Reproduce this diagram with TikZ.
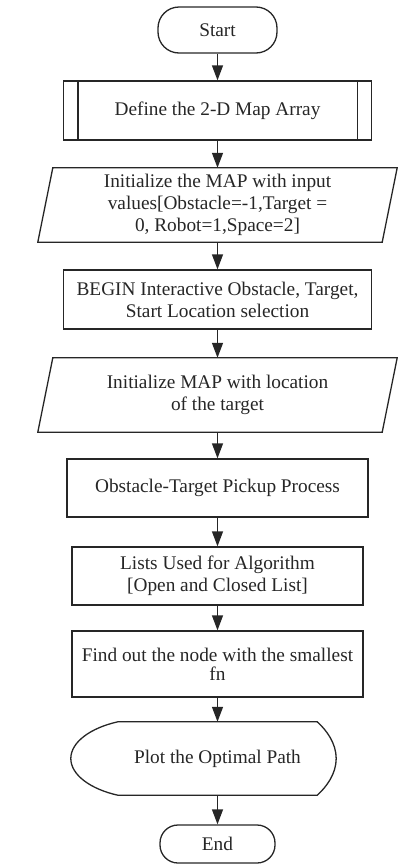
\documentclass[tikz,border=0pt]{standalone}
\usepackage{fontspec}
\setmainfont{Liberation Serif}
\usetikzlibrary{arrows.meta,calc}

\begin{document}
\begin{tikzpicture}[x=1pt, y=-1pt,
  font=\fontsize{19.3}{22}\selectfont,
  outline/.style={draw=black!85, line width=1.3pt},
  terminal/.style={outline, rounded corners=21pt, minimum width=119pt, minimum height=46pt, inner sep=0pt, text=black!85},
  procbox/.style={outline, minimum width=308pt, minimum height=59pt, inner sep=0pt, align=center, text=black!85},
  iobox/.style={minimum width=329pt, minimum height=74pt, inner sep=0pt, align=center, text=black!85},
  showbox/.style={minimum width=199pt, minimum height=73pt, inner sep=0pt, align=center, text=black!85},
  flow/.style={-{Triangle[length=15pt, width=11pt]}, line width=1.3pt, black!85},
]
\useasboundingbox (0,0) rectangle (410,865);

% ---- start ----
\node[terminal] (start) at (217.5,30) {Start};

% ---- predefined process: map array ----
\node[procbox] (define) at (217.5,110.5) {Define the 2-D Map Array};
\draw[outline] ([xshift=15pt]define.north west) -- ([xshift=15pt]define.south west);
\draw[outline] ([xshift=-15pt]define.north east) -- ([xshift=-15pt]define.south east);

% ---- input: map values ----
\node[iobox] (init) at (217.5,205) {Initialize the MAP with input\\values[Obstacle=-1,Target =\\0, Robot=1,Space=2]};
\draw[outline] ([xshift=-15pt]init.south west) -- (init.north west) -- ([xshift=15pt]init.north east) -- (init.south east) -- cycle;

% ---- interactive selection ----
\node[procbox] (begin) at (217.5,299.5) {BEGIN Interactive Obstacle, Target,\\Start Location selection};

% ---- input: target location ----
\node[iobox] (initmap) at (217.5,395) {Initialize MAP with location\\of the target};
\draw[outline] ([xshift=-15pt]initmap.south west) -- (initmap.north west) -- ([xshift=15pt]initmap.north east) -- (initmap.south east) -- cycle;

% ---- search steps ----
\node[procbox, minimum width=301pt, minimum height=58pt] (pickup) at (217.5,488) {Obstacle-Target Pickup Process};
\node[procbox, minimum width=291pt, minimum height=58pt] (lists) at (217.5,576) {Lists Used for Algorithm\\{[Open and Closed List]}};
\node[procbox, minimum width=291pt, minimum height=66pt, font=\fontsize{19.3}{19}\selectfont] (find) at (217.5,664) {Find out the node with the smallest\\fn};

% ---- display: optimal path ----
\node[showbox] (plot) at (217.5,758.5) {Plot the Optimal Path};
\draw[outline] (plot.north west) -- (plot.north east)
  .. controls ($(plot.north east)+(9,8)$) and ($(plot.east)+(19,-15.5)$) .. ($(plot.east)+(19,0)$)
  .. controls ($(plot.east)+(19,15.5)$) and ($(plot.south east)+(9,-8)$) .. (plot.south east)
  -- (plot.south west)
  .. controls ($(plot.south west)+(-27,-6)$) and ($(plot.west)+(-47,16.5)$) .. ($(plot.west)+(-47,0)$)
  .. controls ($(plot.west)+(-47,-16.5)$) and ($(plot.north west)+(-27,6)$) .. (plot.north west) -- cycle;

% ---- end ----
\node[terminal, minimum width=115pt, minimum height=38pt, rounded corners=18pt] (end) at (217.5,844) {End};

% ---- flow ----
\draw[flow] (start) -- (define);
\draw[flow] (define) -- (init);
\draw[flow] (init) -- (begin);
\draw[flow] (begin) -- (initmap);
\draw[flow] (initmap) -- (pickup);
\draw[flow] (pickup) -- (lists);
\draw[flow] (lists) -- (find);
\draw[flow] (find) -- (plot);
\draw[flow] (plot) -- (end);

\end{tikzpicture}
\end{document}
